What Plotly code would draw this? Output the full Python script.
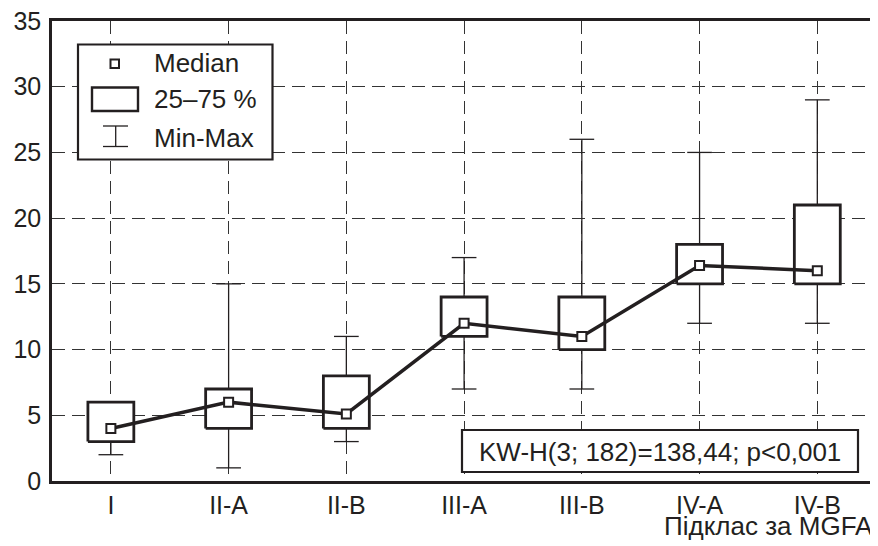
import plotly.graph_objects as go

categories = ["I", "II-A", "II-B", "III-A", "III-B", "IV-A", "IV-B"]
medians = [4.0, 6.0, 5.1, 12.0, 11.0, 16.4, 16.0]
q1 = [3.0, 4.0, 4.0, 11.0, 10.0, 15.0, 15.0]
q3 = [6.0, 7.0, 8.0, 14.0, 14.0, 18.0, 21.0]
mins = [2.0, 1.0, 3.0, 7.0, 7.0, 12.0, 12.0]
maxs = [6.0, 15.0, 11.0, 17.0, 26.0, 25.0, 29.0]
y_ticks = [0, 5, 10, 15, 20, 25, 30, 35]
stat_text = "KW-H(3; 182)=138,44; p<0,001"
x_title = "Підклас за MGFA"

INK = "#231f20"
FONT = "Liberation Sans, Arial, sans-serif"
PAGE_W, PAGE_H = 878, 546
OFF = 8  # default body margin of the page
W, H = PAGE_W - OFF, PAGE_H - OFF
L, R, T, B = 52, 875, 21, 481  # plot area in page pixels

def fx(px):
    return (px - L) / (R - L)

def fy(py):
    return (B - py) / (B - T)

xs = list(range(len(categories)))
box_hw = 0.195
cap_hw = 0.105

fig = go.Figure()

# whiskers
wx, wy = [], []
for i, x in enumerate(xs):
    wx += [x, x, None, x - cap_hw, x + cap_hw, None]
    wy += [q1[i], mins[i], None, mins[i], mins[i], None]
    wx += [x, x, None, x - cap_hw, x + cap_hw, None]
    wy += [q3[i], maxs[i], None, maxs[i], maxs[i], None]
fig.add_trace(go.Scatter(x=wx, y=wy, mode="lines", line=dict(color=INK, width=1.3),
                         hoverinfo="skip", showlegend=False))

# boxes
for i, x in enumerate(xs):
    fig.add_trace(go.Scatter(
        x=[x - box_hw, x + box_hw, x + box_hw, x - box_hw, x - box_hw],
        y=[q1[i], q1[i], q3[i], q3[i], q1[i]],
        mode="lines", fill="toself", fillcolor="white",
        line=dict(color=INK, width=2.8), hoverinfo="skip", showlegend=False))

# median line
fig.add_trace(go.Scatter(
    x=xs, y=medians, mode="lines+markers",
    line=dict(color=INK, width=3.5),
    marker=dict(symbol="square", size=9, color="white", line=dict(color=INK, width=2)),
    showlegend=False))

shapes = []
annotations = []

# custom legend
shapes.append(dict(type="rect", xref="paper", yref="paper",
                   x0=fx(78), x1=fx(272.5), y0=fy(159.5), y1=fy(44.5),
                   line=dict(color=INK, width=2.2), fillcolor="white", layer="above"))
shapes.append(dict(type="rect", xref="paper", yref="paper",
                   x0=fx(110.5), x1=fx(119), y0=fy(68), y1=fy(59.5),
                   line=dict(color=INK, width=2), fillcolor="white", layer="above"))
shapes.append(dict(type="rect", xref="paper", yref="paper",
                   x0=fx(92), x1=fx(138), y0=fy(111), y1=fy(87.5),
                   line=dict(color=INK, width=2.4), fillcolor="white", layer="above"))
for (a, b, c, d) in [(115.7, 126, 115.7, 146.5), (103, 126, 128, 126), (103, 146.5, 128, 146.5)]:
    shapes.append(dict(type="line", xref="paper", yref="paper",
                       x0=fx(a), y0=fy(b), x1=fx(c), y1=fy(d),
                       line=dict(color=INK, width=1.3), layer="above"))
for txt, py in [("Median", 63.5), ("25–75 %", 99.5), ("Min-Max", 137.5)]:
    annotations.append(dict(text=txt, xref="paper", yref="paper", x=fx(151.5), y=fy(py),
                            xanchor="left", yanchor="middle", showarrow=False,
                            font=dict(family=FONT, size=26, color=INK)))

# statistic box
shapes.append(dict(type="rect", xref="paper", yref="paper",
                   x0=fx(462), x1=fx(858), y0=fy(472), y1=fy(430),
                   line=dict(color=INK, width=2.2), fillcolor="white", layer="above"))
annotations.append(dict(text=stat_text, xref="paper", yref="paper", x=fx(660), y=fy(451.5),
                        xanchor="center", yanchor="middle", showarrow=False,
                        font=dict(family=FONT, size=26, color=INK)))

# x axis title
annotations.append(dict(text=x_title, xref="paper", yref="paper", x=fx(875), y=fy(526),
                        xanchor="right", yanchor="middle", showarrow=False,
                        font=dict(family=FONT, size=26, color=INK)))

fig.update_layout(
    width=W, height=H,
    margin=dict(l=L - OFF, r=W - (R - OFF), t=T - OFF, b=H - (B - OFF), autoexpand=False),
    paper_bgcolor="white", plot_bgcolor="white",
    font=dict(family=FONT, size=25, color=INK),
    shapes=shapes, annotations=annotations,
    showlegend=False,
)
fig.update_xaxes(
    range=[-0.5, 6.49], tickmode="array", tickvals=xs, ticktext=categories,
    showgrid=True, gridcolor="#333333", gridwidth=1.2, griddash="13px,7px",
    showline=True, linecolor=INK, linewidth=2.6, mirror=True,
    ticks="", zeroline=False, ticklabelstandoff=0, automargin=False,
    ticklabeloverflow="allow",
)
fig.update_yaxes(
    range=[0, 35], tickmode="array", tickvals=y_ticks,
    showgrid=True, gridcolor="#333333", gridwidth=1.2, griddash="13px,7px",
    showline=True, linecolor=INK, linewidth=2.6, mirror=True,
    ticks="", zeroline=False, ticklabelstandoff=3, automargin=False,
    ticklabeloverflow="allow",
)

fig.write_html("out.html")
